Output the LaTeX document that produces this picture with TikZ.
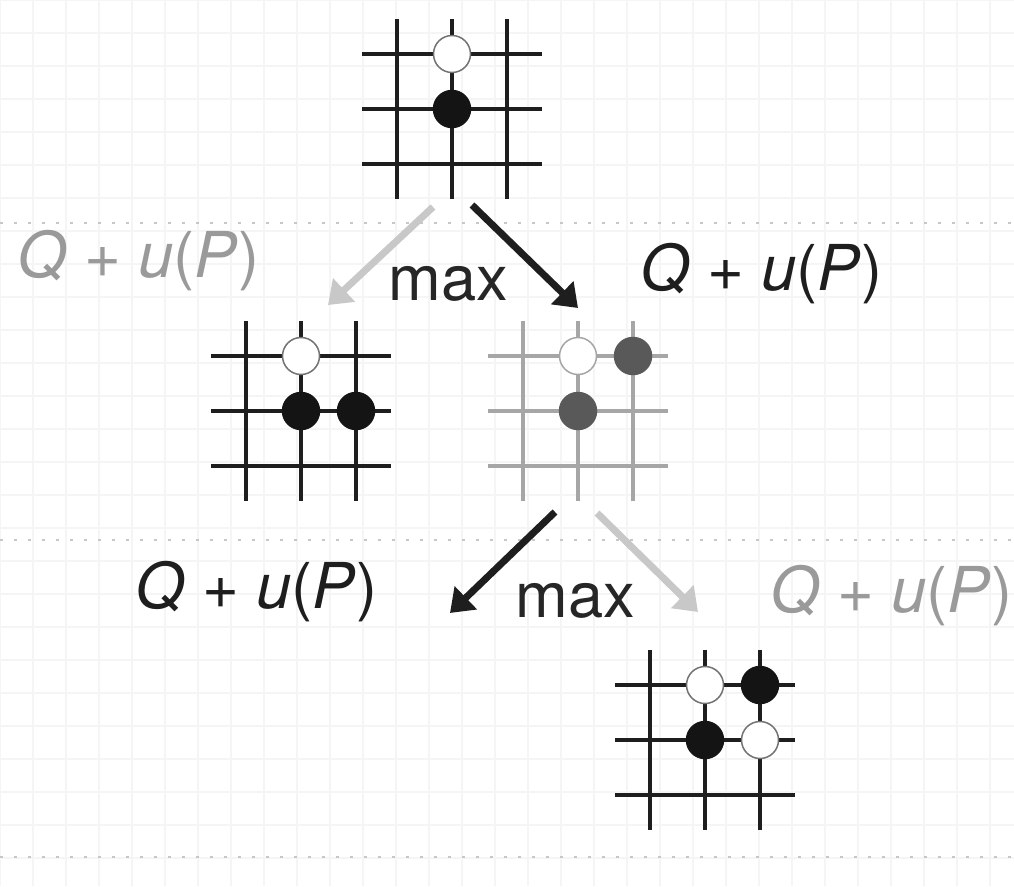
\documentclass[tikz,border=0pt]{standalone}
\usepackage{fontspec}
\setmainfont{TeX Gyre Heros}
\usetikzlibrary{positioning,arrows.meta,calc}
\definecolor{cInk}{HTML}{1E1E1E}
\definecolor{cFaint}{HTML}{9A9A9A}
\definecolor{cPale}{HTML}{C8C8C8}
\newcommand{\Qup}{\textit{Q} + \textit{u}(\textit{P})}
% 3x3 go board: name, centre, line colour
\newcommand{\goboard}[3]{%
  \node[boardbox] (#1) at (#2) {};
  \foreach \d in {-55,0,55} {
    \draw[boardline, #3] ($(#1)+(\d,-90)$) -- ($(#1)+(\d,90)$);
    \draw[boardline, #3] ($(#1)+(-90,\d)$) -- ($(#1)+(90,\d)$);
  }%
}

\begin{document}
\begin{tikzpicture}[
    x=0.02cm, y=-0.02cm,
    font=\fontsize{36}{40}\selectfont,
    boardbox/.style={rectangle, minimum size=3.6cm, inner sep=0pt},
    boardline/.style={line width=0.085cm, cInk},
    stone/.style={circle, minimum size=0.74cm, inner sep=0pt, line width=0.03cm},
    wstone/.style={stone, fill=white, draw=black!55},
    bstone/.style={stone, fill=black!92, draw=black!92},
    gstone/.style={stone, fill=black!65, draw=black!65},
    lbl/.style={inner sep=0pt, anchor=base west},
    pick/.style={-{Triangle[length=0.44cm, width=0.62cm]}, line width=0.14cm, cInk},
    skip/.style={pick, cPale},
    bggrid/.style={black!4, line width=0.05cm},
    level/.style={black!22, line width=0.04cm, dash pattern=on 0.06cm off 0.22cm}
]
\fill[white] (0,0) rectangle (1014,886);
\useasboundingbox (0,0) rectangle (1014,886);
\draw[bggrid] (0,0) grid[step=0.66cm] (1014,886);
\foreach \yy in {223,540,857}
  \draw[level] (0,\yy) -- (1014,\yy);

% boards
\goboard{root}{452,109}{cInk}
\node[wstone] (root-w) at ($(root)+(0,-55)$) {};
\node[bstone] (root-b) at (root) {};

\goboard{left}{301,411}{cInk}
\node[wstone] (left-w) at ($(left)+(0,-55)$) {};
\node[bstone] (left-b1) at (left) {};
\node[bstone] (left-b2) at ($(left)+(55,0)$) {};

\goboard{right}{578,411}{black!35}
\node[wstone, draw=black!35] (right-w) at ($(right)+(0,-55)$) {};
\node[gstone] (right-g1) at ($(right)+(55,-55)$) {};
\node[gstone] (right-g2) at (right) {};

\goboard{leaf}{705,740}{cInk}
\node[wstone] (leaf-w1) at ($(leaf)+(0,-55)$) {};
\node[bstone] (leaf-b1) at ($(leaf)+(55,-55)$) {};
\node[bstone] (leaf-b2) at (leaf) {};
\node[wstone] (leaf-w2) at ($(leaf)+(55,0)$) {};

% selection arrows
\coordinate (open) at (450,613);
\draw[skip] ($(root)+(-19,98)$) -- ($(left)+(27,-106)$);
\draw[pick] ($(root)+(20,96)$) -- ($(right)+(0,-103)$);
\draw[pick] ($(right)+(-23,101)$) -- (open);
\draw[skip] ($(right)+(19,102)$) -- ($(leaf)+(-7,-128)$);

% labels
\node[lbl, cFaint] (score-l) at (17,277) {\Qup};
\node[lbl, black!85] (max-1) at (388,300) {max};
\node[lbl, cInk] (score-r) at (640,290) {\Qup};
\node[lbl, cInk] (score-bl) at (135,608) {\Qup};
\node[lbl, black!85] (max-2) at (515,617) {max};
\node[lbl, cFaint] (score-br) at (770,612) {\Qup};
\end{tikzpicture}
\end{document}
